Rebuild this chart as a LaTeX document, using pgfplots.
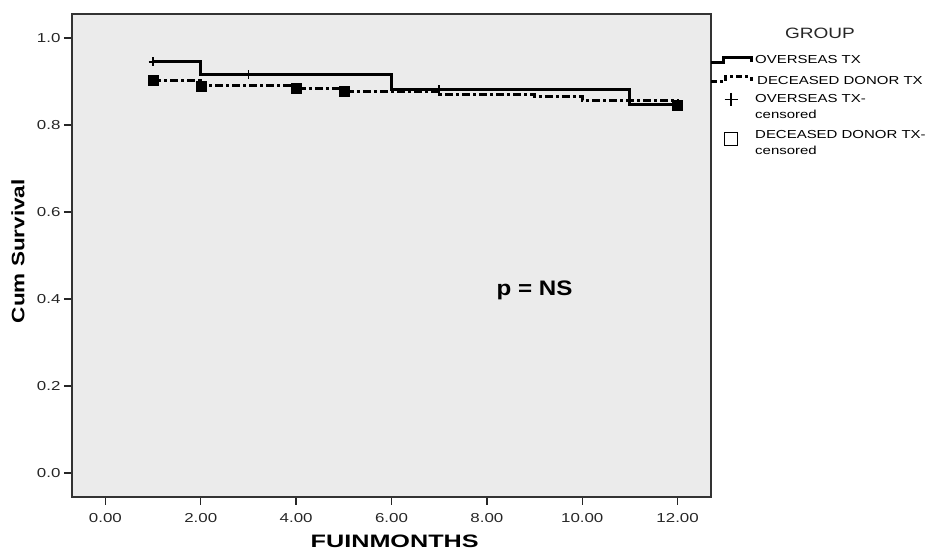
\documentclass[border=0pt]{standalone}
\usepackage{fontspec}
\setmainfont{Liberation Sans}
\usepackage{graphicx}
\usepackage{pgfplots}
\pgfplotsset{compat=1.18}
\usetikzlibrary{calc}

% the source image has wide lettering: stretch text sideways
\newcommand{\wide}[2][1.3]{\scalebox{#1}[1]{#2}}

\begin{document}
\begin{tikzpicture}
\begin{axis}[
    width=639bp, height=483bp,
    scale only axis,
    xmin=-0.7, xmax=12.7,
    ymin=-0.055, ymax=1.055,
    xtick={0,2,4,6,8,10,12},
    ytick={0,0.2,0.4,0.6,0.8,1.0},
    /pgf/number format/assume math mode=true,
    xticklabel={\wide{\pgfmathprintnumber[fixed,fixed zerofill,precision=2]{\tick}}},
    yticklabel={\wide{\pgfmathprintnumber[fixed,fixed zerofill,precision=1]{\tick}}},
    tick label style={font=\fontsize{13bp}{15bp}\selectfont, black!85},
    xticklabel style={yshift=-5bp},
    tick pos=left,
    tick align=outside,
    major tick length=8bp,
    every tick/.style={black!85, line width=1.3bp},
    axis line style={black!80, line width=1.3bp},
    axis background/.style={fill=gray!16},
    xlabel={\wide[1.4]{\bfseries FUINMONTHS}},
    ylabel={\wide[1.25]{\bfseries Cum Survival}},
    xlabel style={font=\fontsize{18bp}{20bp}\selectfont,
        at={(rel axis cs:0.505,0)}, anchor=center, yshift=-44bp},
    ylabel style={font=\fontsize{18bp}{20bp}\selectfont,
        at={(rel axis cs:0,0.509)}, anchor=center, yshift=54bp},
    clip=false,
]
% OVERSEAS TX
\addplot[black, line width=3bp] coordinates {
    (1,0.945) (2,0.945) (2,0.915) (6,0.915) (6,0.881)
    (11,0.881) (11,0.846) (12,0.846)
};
% DECEASED DONOR TX
\addplot[black, line width=3bp, dash pattern=on 8bp off 3bp on 3bp off 3bp] coordinates {
    (1,0.903) (2,0.903) (2,0.890) (4,0.890) (4,0.884) (5,0.884) (5,0.877)
    (7,0.877) (7,0.871) (9,0.871) (9,0.866) (10,0.866) (10,0.857)
    (12,0.857) (12,0.846)
};
% censored marks
\addplot[only marks, mark=+, mark size=4.5bp, line width=1.4bp] coordinates {
    (1,0.945) (3,0.915) (7,0.881)
};
\addplot[only marks, mark=square*, mark size=5bp, fill=black] coordinates {
    (1,0.903) (2,0.890) (4,0.884) (5,0.877) (12,0.846)
};

\node[font=\fontsize{21bp}{23bp}\selectfont\bfseries] at (axis cs:9.0,0.421) {\wide[1.15]{p = NS}};
\end{axis}

% legend to the right of the plot, offsets in px from the axis' top right corner
\begin{scope}[shift={(current axis.north east)}, x=1bp, y=-1bp,
    every node/.style={font=\fontsize{11.6bp}{14bp}\selectfont, anchor=base west, inner sep=0pt}]
  \node[font=\fontsize{15bp}{17bp}\selectfont, black!85, anchor=center] at (109,19) {\wide[1.27]{GROUP}};
  \draw[black, line width=3bp] (0,49) -- (12,49) -- (12,44) -- (40,44) -- (40,48);
  \node at (44,49.5) {\wide[1.29]{OVERSEAS TX}};
  \draw[black, line width=3bp, dash pattern=on 6bp off 3bp on 3bp off 3bp] (0,68) -- (14,68) -- (14,63) -- (40,63) -- (40,67);
  \node at (46,70.5) {\wide[1.29]{DECEASED DONOR TX}};
  \draw[black, line width=1.2bp] (13.5,85.5) -- (26.5,85.5) (20,79) -- (20,92);
  \node at (44,88.5) {\wide[1.29]{OVERSEAS TX-}};
  \node at (44,104.5) {\wide[1.29]{censored}};
  \draw[black, line width=1.3bp] (13.5,118.5) rectangle (26.5,131.5);
  \node at (44,124.5) {\wide[1.29]{DECEASED DONOR TX-}};
  \node at (44,140.5) {\wide[1.29]{censored}};
\end{scope}

\pgfresetboundingbox
\path ($(current axis.south west)+(-72bp,-53bp)$) rectangle ($(current axis.north east)+(219bp,14bp)$);
\end{tikzpicture}
\end{document}
